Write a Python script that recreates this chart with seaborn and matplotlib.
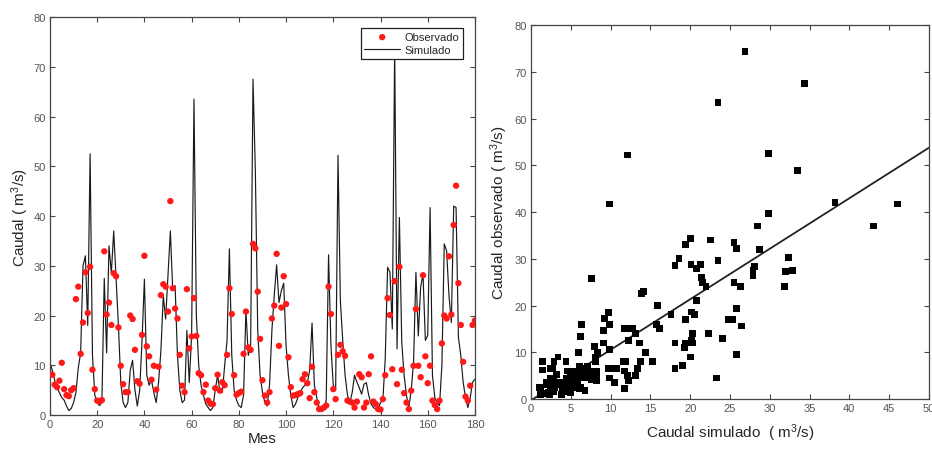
import numpy as np
import pandas as pd
import matplotlib
matplotlib.use("Agg")
import matplotlib.pyplot as plt
import seaborn as sns

# Simulated monthly discharge (m3/s), months 0..180
sim = [10.5, 9.0, 7.0, 5.5, 4.5, 3.5, 3.0, 1.8, 0.9, 1.3,
       2.5, 4.5, 9.5, 12.5, 30.0, 32.0, 18.0, 52.5, 12.0, 4.0,
       2.5, 1.9, 2.5, 27.5, 12.5, 34.0, 28.5, 37.0, 27.5, 18.0,
       6.5, 2.5, 1.5, 2.5, 9.0, 11.0, 5.0, 1.8, 5.0, 15.0,
       27.3, 8.0, 6.0, 7.0, 4.5, 2.5, 6.6, 13.0, 24.0, 19.3,
       28.0, 37.0, 25.0, 26.0, 12.0, 5.0, 2.5, 3.0, 17.0, 6.5,
       16.0, 63.5, 20.0, 10.0, 6.0, 4.0, 2.2, 1.5, 0.9, 1.5,
       5.0, 8.0, 4.6, 4.5, 10.0, 15.0, 33.4, 12.0, 5.0, 3.0,
       1.9, 1.5, 4.0, 21.0, 12.0, 14.0, 67.5, 48.9, 17.0, 8.0,
       4.6, 2.5, 1.8, 6.0, 17.0, 24.0, 30.2, 22.6, 25.0, 26.5,
       14.0, 8.0, 4.0, 1.5, 2.2, 3.5, 4.5, 5.5, 6.0, 6.5,
       9.0, 18.5, 6.0, 3.5, 1.5, 0.9, 1.2, 3.0, 32.2, 14.0,
       5.9, 5.2, 52.2, 23.0, 15.0, 8.0, 4.0, 2.5, 4.5, 8.0,
       6.6, 5.5, 4.2, 6.2, 6.5, 4.0, 2.2, 1.5, 1.2, 1.2,
       2.5, 3.0, 11.3, 29.7, 28.7, 17.3, 74.3, 13.3, 39.7, 14.6,
       8.0, 3.9, 1.5, 5.0, 10.6, 28.7, 15.9, 25.7, 28.3, 15.0,
       16.0, 41.7, 8.0, 3.5, 2.5, 1.9, 10.0, 34.4, 33.0, 24.0,
       18.6, 42.0, 41.7, 15.6, 12.0, 6.6, 3.5, 1.5, 3.5, 6.6,
       7.2]
sim_months = list(range(0, 181))

# Observed monthly discharge (m3/s), months 1..180
obs = [8.1, 6.1, 5.6, 6.9, 10.5, 5.2, 4.0, 3.8, 5.0, 5.4,
       23.3, 25.8, 12.3, 18.6, 28.7, 20.5, 29.8, 9.1, 5.2, 2.9,
       2.7, 3.0, 32.9, 20.2, 22.6, 18.1, 28.5, 27.9, 17.6, 9.9,
       6.2, 4.6, 4.6, 20.0, 19.3, 13.1, 6.8, 6.3, 16.1, 32.0,
       13.8, 11.8, 7.1, 9.9, 5.1, 9.7, 24.1, 26.3, 25.8, 20.8,
       43.0, 25.5, 21.4, 19.4, 12.1, 5.9, 4.6, 25.3, 13.4, 15.8,
       23.5, 15.9, 8.4, 8.0, 4.6, 6.1, 2.9, 2.3, 2.2, 5.4,
       8.1, 4.9, 6.6, 6.0, 12.1, 25.5, 20.3, 8.0, 4.1, 4.4,
       4.7, 12.3, 20.8, 13.6, 13.1, 34.4, 33.5, 24.8, 15.3, 7.0,
       3.9, 2.5, 4.6, 19.4, 22.0, 32.4, 13.9, 21.6, 27.9, 22.3,
       11.6, 5.6, 3.9, 4.0, 4.2, 4.4, 7.2, 8.2, 6.4, 3.4,
       9.7, 4.6, 2.5, 1.2, 1.2, 1.5, 1.9, 25.8, 20.3, 5.2,
       3.2, 12.1, 14.1, 12.8, 11.9, 2.9, 2.7, 2.5, 1.5, 2.7,
       8.2, 7.6, 1.5, 2.5, 8.2, 11.8, 2.7, 2.2, 1.2, 1.1,
       3.2, 8.0, 23.5, 20.1, 9.2, 26.9, 6.2, 29.8, 9.1, 4.4,
       2.5, 1.2, 4.9, 9.9, 21.3, 9.9, 7.6, 28.1, 11.8, 6.4,
       9.9, 2.9, 2.0, 1.2, 2.9, 14.4, 20.0, 19.4, 31.9, 20.2,
       38.2, 46.1, 26.5, 18.1, 10.7, 3.7, 2.9, 5.9, 18.1, 19.0]
obs_months = list(range(1, 181))

x_ticks_left = list(range(0, 181, 20))
y_ticks = list(range(0, 81, 10))
x_ticks_right = list(range(0, 51, 5))

sns.set_theme(style="ticks")
plt.rcParams["font.family"] = ["Liberation Sans", "DejaVu Sans"]
plt.rcParams["mathtext.fontset"] = "custom"
plt.rcParams["mathtext.rm"] = "Liberation Sans"
plt.rcParams["mathtext.default"] = "regular"

series = pd.DataFrame({"Mes": sim_months, "Simulado": sim})
points = pd.DataFrame({"Mes": obs_months, "Observado": obs})
pairs = pd.DataFrame({"obs": obs, "sim": sim[1:]})

fig = plt.figure(figsize=(9.32, 4.52), dpi=100)
ax1 = fig.add_axes([0.0536, 0.0796, 0.456, 0.8805])
ax2 = fig.add_axes([0.5697, 0.115, 0.427, 0.8274])

tick_color = "#555555"
frame_color = "#444444"


def style_axes(ax):
    ax.tick_params(direction="in", top=True, right=True, length=3.5,
                   width=0.8, colors=frame_color, labelcolor=tick_color,
                   labelsize=8, pad=3)
    for sp in ax.spines.values():
        sp.set_color(frame_color)
        sp.set_linewidth(0.9)


# Time series panel
sns.lineplot(data=series, x="Mes", y="Simulado", ax=ax1, color="#1a1a1a",
             linewidth=0.85, label="Simulado", zorder=2)
sns.scatterplot(data=points, x="Mes", y="Observado", ax=ax1, color="#ff1a1a",
                s=21, edgecolor="none", label="Observado", zorder=3)
ax1.set_xlim(0, 180)
ax1.set_ylim(0, 80)
ax1.set_xticks(x_ticks_left)
ax1.set_yticks(y_ticks)
ax1.set_xlabel("Mes", fontsize=11, labelpad=1)
ax1.set_ylabel("Caudal ( m$^{3}$/s)", fontsize=11, labelpad=2)
style_axes(ax1)
handles, labels = ax1.get_legend_handles_labels()
order = [labels.index("Observado"), labels.index("Simulado")]
leg = ax1.legend([handles[i] for i in order], [labels[i] for i in order],
                 loc="upper right", bbox_to_anchor=(0.972, 0.972),
                 fontsize=8, frameon=True, fancybox=False, framealpha=1,
                 borderpad=0.35, labelspacing=0.25, handlelength=3.2,
                 handletextpad=0.4, borderaxespad=0)
leg.get_frame().set_edgecolor("#222222")
leg.get_frame().set_linewidth(0.9)
leg.set_zorder(5)

# Scatter panel with linear fit across the full x range
ax2.set_xlim(0, 50)
ax2.set_ylim(0, 80)
sns.scatterplot(data=pairs, x="obs", y="sim", ax=ax2, color="black",
                marker="s", s=24, edgecolor="none", zorder=3)
sns.regplot(data=pairs, x="obs", y="sim", ax=ax2, scatter=False, ci=None,
            truncate=False, line_kws={"color": "#222222", "linewidth": 1.3})
ax2.set_xlim(0, 50)
ax2.set_ylim(0, 80)
ax2.set_xticks(x_ticks_right)
ax2.set_yticks(y_ticks)
ax2.set_xlabel("Caudal simulado  ( m$^{3}$/s)", fontsize=11, labelpad=6)
ax2.set_ylabel("Caudal observado ( m$^{3}$/s)", fontsize=11, labelpad=3)
style_axes(ax2)

fig.savefig("out.png", dpi=100, facecolor="white")
